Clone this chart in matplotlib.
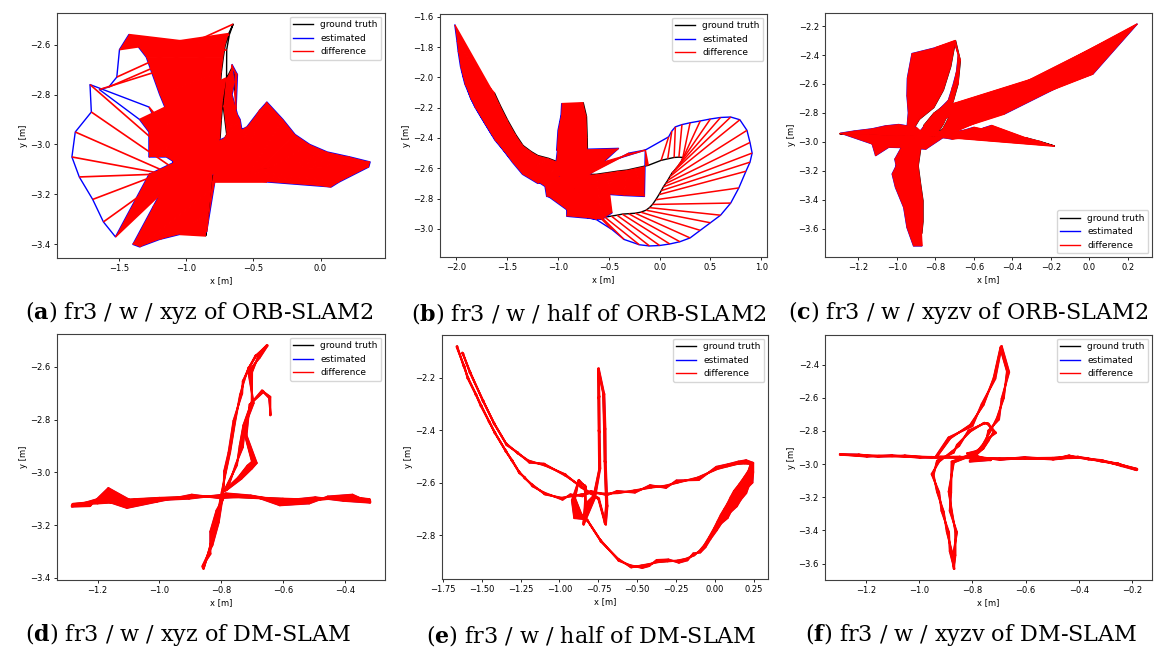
import matplotlib
matplotlib.use('Agg')
import matplotlib.pyplot as plt
from matplotlib.collections import LineCollection, PolyCollection
from matplotlib.ticker import MultipleLocator

plt.rcParams['mathtext.fontset'] = 'dejavuserif'

# ---- fr3/w/xyz ----
xyz_gt_x = [-0.80, -0.90, -1.00, -1.08, -1.16, -1.22, -1.28, -1.20, -1.10, -1.00, -0.90, -0.80, -0.70,
            -0.60, -0.52, -0.45, -0.38, -0.32, -0.40, -0.50, -0.60, -0.70, -0.79, -0.81, -0.825, -0.84,
            -0.857, -0.835, -0.815, -0.798, -0.785, -0.771, -0.755, -0.739, -0.725, -0.712, -0.685, -0.652,
            -0.680, -0.700, -0.701, -0.728, -0.740, -0.749, -0.790, -0.745, -0.715, -0.700, -0.725, -0.705,
            -0.663, -0.641, -0.641]
xyz_gt_y = [-3.090, -3.093, -3.097, -3.102, -3.108, -3.113, -3.120, -3.118, -3.110, -3.100, -3.094, -3.092,
            -3.097, -3.103, -3.108, -3.100, -3.094, -3.102, -3.098, -3.104, -3.100, -3.095, -3.090, -3.150,
            -3.230, -3.300, -3.366, -3.280, -3.180, -3.075, -3.000, -2.923, -2.809, -2.708, -2.650, -2.606,
            -2.556, -2.518, -2.560, -2.620, -2.733, -2.822, -2.900, -2.973, -3.070, -3.020, -2.975, -2.960,
            -2.850, -2.740, -2.695, -2.714, -2.784]
orb_xyz_x = [-1.05, -1.28, -1.72, -1.71, -1.83, -1.855, -1.80, -1.70, -1.62, -1.53, -1.28, -0.55, -0.45,
             -0.40, -0.28, -0.19, -0.08, 0.05, 0.22, 0.37, 0.36, 0.14, 0.08, -0.40, -0.78, -0.85, -1.05,
             -1.20, -1.35, -1.40, -1.25, -1.10, -1.10, -1.20, -1.30, -1.43, -1.50, -1.52, -1.58, -1.65,
             -1.35, -1.28, -1.28, -1.15, -0.95, -0.53, -0.60, -0.62, -0.66, -0.64, -0.66, -0.62, -0.63]
orb_xyz_y = [-3.10, -2.85, -2.76, -2.87, -2.95, -3.05, -3.13, -3.22, -3.31, -3.37, -3.12, -2.93, -2.86,
             -2.83, -2.90, -2.96, -3.00, -3.03, -3.05, -3.07, -3.09, -3.15, -3.17, -3.15, -3.12, -3.35,
             -3.36, -3.38, -3.41, -3.40, -3.25, -3.10, -2.93, -2.80, -2.65, -2.56, -2.62, -2.73, -2.77,
             -2.78, -2.90, -2.95, -3.05, -3.05, -3.12, -3.12, -2.90, -2.88, -2.80, -2.75, -2.68, -2.72, -2.86]
dm_xyz_x = [-0.795, -0.905, -0.995, -1.085, -1.165, -1.225, -1.283, -1.195, -1.105, -1.010, -0.895, -0.805,
            -0.695, -0.610, -0.515, -0.455, -0.375, -0.318, -0.405, -0.495, -0.605, -0.705, -0.785, -0.815,
            -0.835, -0.835, -0.860, -0.828, -0.808, -0.792, -0.790, -0.776, -0.760, -0.732, -0.730, -0.708,
            -0.690, -0.650, -0.675, -0.712, -0.695, -0.722, -0.730, -0.752, -0.780, -0.735, -0.700, -0.685,
            -0.718, -0.708, -0.668, -0.645, -0.640]
dm_xyz_y = [-3.085, -3.100, -3.105, -3.112, -3.060, -3.128, -3.130, -3.100, -3.135, -3.112, -3.085, -3.098,
            -3.090, -3.125, -3.118, -3.092, -3.085, -3.115, -3.108, -3.095, -3.108, -3.088, -3.080, -3.145,
            -3.225, -3.310, -3.355, -3.275, -3.190, -3.070, -2.995, -2.925, -2.805, -2.700, -2.655, -2.600,
            -2.560, -2.520, -2.565, -2.618, -2.738, -2.820, -2.905, -2.968, -3.065, -3.025, -2.985, -2.965,
            -2.860, -2.745, -2.690, -2.718, -2.780]

# ---- fr3/w/half ----
half_gt_x = [-1.658, -1.620, -1.584, -1.540, -1.500, -1.455, -1.413, -1.350, -1.300, -1.264, -1.220, -1.179,
             -1.093, -0.987, -0.923, -0.860, -0.795, -0.700, -0.624, -0.520, -0.411, -0.320, -0.240, -0.112,
             0.015, 0.080, 0.143, 0.190, 0.229, 0.215, 0.186, 0.155, 0.122, 0.100, 0.080, 0.058, 0.037,
             0.016, -0.006, -0.038, -0.070, -0.100, -0.134, -0.185, -0.240, -0.305, -0.368, -0.420, -0.475,
             -0.539,
             -0.624, -0.731, -0.816, -0.860, -0.900, -0.880, -0.840, -0.830, -0.780, -0.745, -0.748,
             -0.750, -0.752, -0.720, -0.713, -0.710, -0.700, -0.710, -0.752, -0.859, -0.965, -1.093, -1.200,
             -1.265, -1.345, -1.415, -1.495, -1.570, -1.625]
half_gt_y = [-2.080, -2.150, -2.206, -2.260, -2.310, -2.365, -2.413, -2.475, -2.520, -2.555, -2.585, -2.606,
             -2.645, -2.658, -2.652, -2.645, -2.640, -2.642, -2.640, -2.630, -2.619, -2.612, -2.600, -2.581,
             -2.548, -2.538, -2.529, -2.527, -2.529, -2.555, -2.581, -2.607, -2.632, -2.656, -2.680, -2.702,
             -2.723, -2.748, -2.774, -2.808, -2.839, -2.860, -2.877, -2.890, -2.897, -2.900, -2.903, -2.910,
             -2.916, -2.923,
             -2.890, -2.826, -2.748, -2.720, -2.660, -2.600, -2.610, -2.680, -2.650, -2.550,
             -2.400, -2.280, -2.168, -2.258, -2.400, -2.516, -2.684, -2.750, -2.658, -2.619, -2.568, -2.535,
             -2.516, -2.490, -2.450, -2.380, -2.285, -2.185, -2.105]
orb_half_x = [-2.016, -1.995, -1.984, -1.960, -1.918, -1.870, -1.819, -1.720, -1.622, -1.540, -1.474, -1.400,
              -1.326, -1.128, -1.112, -0.950, -0.914, -0.914, -0.569, -0.470, -0.550, -0.350, -0.150,
              -0.141, 0.089, 0.120, 0.155, 0.220, 0.300, 0.400, 0.500, 0.600, 0.700, 0.790, 0.860, 0.890,
              0.911, 0.890, 0.850, 0.780, 0.700, 0.600, 0.500, 0.400, 0.300, 0.200, 0.100, 0.000, -0.100,
              -0.200,
              -0.350, -0.470, -0.620,
              -0.860, -1.095, -1.050, -0.900, -0.700, -0.405,
              -1.013, -1.000, -0.970, -0.964, -0.950, -0.985, -1.000, -1.030, -0.900,
              -0.300, -0.141,
              -1.200, -1.350, -1.450, -1.560, -1.660, -1.760, -1.860, -1.935, -1.975]
orb_half_y = [-1.655, -1.760, -1.825, -1.930, -2.043, -2.120, -2.196, -2.305, -2.414, -2.480, -2.534, -2.560,
              -2.633, -2.720, -2.786, -2.800, -2.873, -2.917, -2.938, -2.895, -2.770, -2.780, -2.786,
              -2.480, -2.393, -2.355, -2.327, -2.312, -2.300, -2.288, -2.275, -2.265, -2.262, -2.280, -2.350,
              -2.430, -2.500, -2.560, -2.620, -2.730, -2.830, -2.910, -2.960, -3.010, -3.060, -3.085, -3.100,
              -3.110, -3.113, -3.105,
              -3.070, -3.004, -2.940,
              -2.900, -2.786, -2.700, -2.760, -2.650, -2.469,
              -2.480, -2.350, -2.250, -2.174, -2.190, -2.330, -2.450, -2.620, -2.700,
              -2.500, -2.480,
              -2.700, -2.640, -2.560, -2.460, -2.370, -2.260, -2.140, -1.990, -1.830]
dm_half_x = [-1.660, -1.610, -1.592, -1.535, -1.508, -1.448, -1.420, -1.340, -1.310, -1.255, -1.228, -1.170,
             -1.100, -0.980, -0.930, -0.852, -0.800, -0.695, -0.630, -0.515, -0.418, -0.315, -0.248, -0.105,
             0.008, 0.085, 0.150, 0.200, 0.245, 0.245, 0.240, 0.215, 0.200, 0.165, 0.140, 0.100, 0.080,
             0.040, 0.010, -0.030, -0.062, -0.095, -0.140, -0.178, -0.232, -0.300, -0.375, -0.425, -0.468,
             -0.545,
             -0.618, -0.738, -0.825, -0.905, -0.920, -0.875, -0.830, -0.845, -0.772, -0.738, -0.742,
             -0.744, -0.748, -0.712, -0.705, -0.703, -0.692, -0.702, -0.745, -0.866, -0.958, -1.100, -1.192,
             -1.272, -1.337, -1.423, -1.487, -1.578, -1.617]
dm_half_y = [-2.085, -2.160, -2.200, -2.268, -2.305, -2.372, -2.405, -2.485, -2.512, -2.565, -2.578, -2.615,
             -2.638, -2.665, -2.645, -2.652, -2.632, -2.648, -2.632, -2.638, -2.610, -2.620, -2.592, -2.590,
             -2.540, -2.530, -2.520, -2.515, -2.525, -2.560, -2.600, -2.615, -2.640, -2.665, -2.690, -2.712,
             -2.735, -2.755, -2.782, -2.815, -2.846, -2.866, -2.870, -2.896, -2.905, -2.893, -2.895, -2.918,
             -2.925, -2.915,
             -2.898, -2.818, -2.740, -2.735, -2.668, -2.590, -2.618, -2.760, -2.658, -2.545,
             -2.410, -2.270, -2.165, -2.265, -2.395, -2.525, -2.690, -2.760, -2.665, -2.612, -2.575, -2.528,
             -2.524, -2.484, -2.458, -2.372, -2.293, -2.178, -2.113]

# ---- fr3/w/xyz_validation ----
xyzv_gt_x = [-0.850, -0.950, -1.058, -1.150, -1.230, -1.296, -1.200, -1.100, -1.000, -0.900, -0.808, -0.700,
             -0.600, -0.500, -0.432, -0.369, -0.307, -0.244, -0.181, -0.250, -0.320, -0.400, -0.500, -0.600,
             -0.700, -0.780, -0.933, -0.883, -0.808, -0.758, -0.720, -0.695, -0.670, -0.682, -0.708, -0.733,
             -0.760, -0.790, -0.870, -0.889, -0.877, -0.864, -0.864, -0.870, -0.877, -0.896, -0.908, -0.933,
             -0.946, -0.933, -0.870, -0.858, -0.808, -0.760, -0.745, -0.720, -0.740, -0.758, -0.790, -0.760,
             -0.800]
xyzv_gt_y = [-2.960, -2.957, -2.954, -2.950, -2.947, -2.944, -2.948, -2.952, -2.956, -2.960, -2.964, -2.965,
             -2.964, -2.962, -2.954, -2.964, -2.985, -3.005, -3.029, -3.000, -2.975, -2.962, -2.966, -2.968,
             -2.967, -2.962, -2.954, -2.844, -2.763, -2.642, -2.480, -2.300, -2.440, -2.600, -2.723, -2.803,
             -2.880, -2.940, -2.990, -3.166, -3.287, -3.408, -3.550, -3.630, -3.529, -3.408, -3.287, -3.166,
             -3.065, -2.980, -2.930, -2.884, -2.803, -2.755, -2.753, -2.803, -2.860, -2.904, -2.950, -2.965,
             -2.960]
orb_xyzv_x = [-0.900, -0.990, -1.060, -1.128, -1.220, -1.291, -1.128, -1.110, -1.042, -0.950, -0.850, -0.760,
              -0.715, -0.650, -0.600, -0.550, -0.508, -0.600, -0.680, -0.600, -0.650, -0.700, -0.720, -0.750,
              -0.780, -0.800, -0.950, -0.940, -0.947, -0.945, -0.921, -0.800, -0.700, -0.680, -0.690, -0.710,
              -0.732, -0.801, -0.960, -1.024, -1.007, -0.964, -0.947, -0.913, -0.870, -0.930, -0.960, -0.990,
              -1.010, -0.960, -0.700, -0.600, -0.439, -0.267, -0.095, 0.077, 0.200, 0.249, 0.020, -0.129,
              -0.439]
orb_xyzv_y = [-2.900, -2.880, -2.890, -2.910, -2.925, -2.940, -3.014, -3.095, -3.037, -3.040, -3.050, -2.970,
              -2.980, -2.960, -2.930, -2.905, -2.887, -2.960, -2.975, -2.900, -2.920, -2.930, -2.950, -2.940,
              -2.930, -2.920, -2.950, -2.800, -2.680, -2.560, -2.390, -2.350, -2.309, -2.400, -2.520, -2.620,
              -2.713, -2.806, -3.050, -3.222, -3.314, -3.453, -3.592, -3.719, -3.719, -3.550, -3.400, -3.250,
              -3.120, -3.000, -2.800, -2.750, -2.713, -2.598, -2.482, -2.366, -2.230, -2.186, -2.530, -2.600,
              -2.806]
dm_xyzv_x = [-0.845, -0.955, -1.052, -1.155, -1.225, -1.298, -1.195, -1.105, -0.995, -0.905, -0.812, -0.695,
             -0.605, -0.495, -0.438, -0.362, -0.312, -0.238, -0.183, -0.256, -0.315, -0.405, -0.495, -0.605,
             -0.695, -0.785, -0.940, -0.890, -0.800, -0.765, -0.714, -0.690, -0.662, -0.690, -0.700, -0.740,
             -0.752, -0.798, -0.878, -0.880, -0.885, -0.858, -0.872, -0.868, -0.885, -0.888, -0.916, -0.925,
             -0.953, -0.925, -0.878, -0.850, -0.815, -0.752, -0.738, -0.712, -0.748, -0.770, -0.820, -0.730,
             -0.810]
dm_xyzv_y = [-2.955, -2.962, -2.948, -2.956, -2.942, -2.940, -2.955, -2.946, -2.962, -2.955, -2.958, -2.972,
             -2.958, -2.970, -2.948, -2.972, -2.978, -3.012, -3.036, -2.995, -2.984, -2.955, -2.972, -2.962,
             -2.974, -2.955, -2.960, -2.840, -2.770, -2.638, -2.485, -2.288, -2.445, -2.605, -2.730, -2.798,
             -2.885, -2.935, -2.985, -3.170, -3.282, -3.412, -3.545, -3.632, -3.525, -3.412, -3.282, -3.170,
             -3.060, -2.985, -2.925, -2.890, -2.798, -2.752, -2.760, -2.812, -2.852, -2.915, -2.935, -2.975,
             -2.985]

captions = [r'($\mathbf{a}$) fr3 / w / xyz of ORB-SLAM2',
            r'($\mathbf{b}$) fr3 / w / half of ORB-SLAM2',
            r'($\mathbf{c}$) fr3 / w / xyzv of ORB-SLAM2',
            r'($\mathbf{d}$) fr3 / w / xyz of DM-SLAM',
            r'($\mathbf{e}$) fr3 / w / half of DM-SLAM',
            r'($\mathbf{f}$) fr3 / w / xyzv of DM-SLAM']

W, H = 1156, 649
fig = plt.figure(figsize=(W / 100, H / 100), dpi=100)


def px_axes(x0, y0, x1, y1):
    return fig.add_axes([x0 / W, 1 - y1 / H, (x1 - x0) / W, (y1 - y0) / H])


def draw_panel(ax, gx, gy, ex, ey, no_fill=(), loc='upper right', xstep=0.2, edge=0.0, lw=1.0):
    assert len(gx) == len(gy) == len(ex) == len(ey), (len(gx), len(gy), len(ex), len(ey))
    ax.plot(gx, gy, color='black', lw=1, label='ground truth', zorder=2)
    ax.plot(ex, ey, color='blue', lw=1, label='estimated', zorder=2)
    segs = [[(a, b), (c, d)] for a, b, c, d in zip(gx, gy, ex, ey)]
    quads = [[segs[i][0], segs[i][1], segs[i + 1][1], segs[i + 1][0]]
             for i in range(len(segs) - 1) if i not in no_fill]
    ax.add_collection(PolyCollection(quads, facecolors='red', edgecolors='red',
                                     linewidths=edge, zorder=3))
    ax.add_collection(LineCollection(segs, colors='red', linewidths=lw, zorder=4))
    ax.plot([], [], color='red', lw=1, label='difference')
    ax.xaxis.set_major_locator(MultipleLocator(xstep))
    ax.yaxis.set_major_locator(MultipleLocator(0.2))
    ax.tick_params(labelsize=6, length=2.5, width=0.6, pad=2)
    ax.set_xlabel('x [m]', fontsize=6, labelpad=2)
    ax.set_ylabel('y [m]', fontsize=6, labelpad=2)
    for s in ax.spines.values():
        s.set_color('0.25')
        s.set_linewidth(0.8)
    ax.legend(loc=loc, fontsize=6.5, handlelength=2.2, borderaxespad=0.4)


ax = px_axes(57, 13, 385, 258)
draw_panel(ax, xyz_gt_x, xyz_gt_y, orb_xyz_x, orb_xyz_y, no_fill=set(range(1, 9)) | set(range(36, 40)),
           xstep=0.5, lw=1.2)
ax = px_axes(440, 14, 767, 257)
draw_panel(ax, half_gt_x, half_gt_y, orb_half_x, orb_half_y, no_fill=set(range(23, 52)), xstep=0.5, lw=1.1)
ax = px_axes(825, 13, 1152, 257)
draw_panel(ax, xyzv_gt_x, xyzv_gt_y, orb_xyzv_x, orb_xyzv_y, loc='lower right', edge=0.6, lw=1.2)
ax = px_axes(57, 334, 385, 580)
draw_panel(ax, xyz_gt_x, xyz_gt_y, dm_xyz_x, dm_xyz_y, edge=1.5, lw=2.0)
ax = px_axes(442, 335, 768, 579)
draw_panel(ax, half_gt_x, half_gt_y, dm_half_x, dm_half_y, xstep=0.25, edge=1.5, lw=2.0)
ax = px_axes(825, 335, 1152, 580)
draw_panel(ax, xyzv_gt_x, xyzv_gt_y, dm_xyzv_x, dm_xyzv_y, edge=1.5, lw=2.0)

cap_pos = [(199, 313), (589, 313), (968, 313), (188, 635), (591, 635), (971, 635)]
for (cx, cy), txt in zip(cap_pos, captions):
    fig.text(cx / W, 1 - cy / H, txt, ha='center', va='center', fontsize=16,
             family='DejaVu Serif')

fig.savefig('out.png', dpi=100, facecolor='white')
